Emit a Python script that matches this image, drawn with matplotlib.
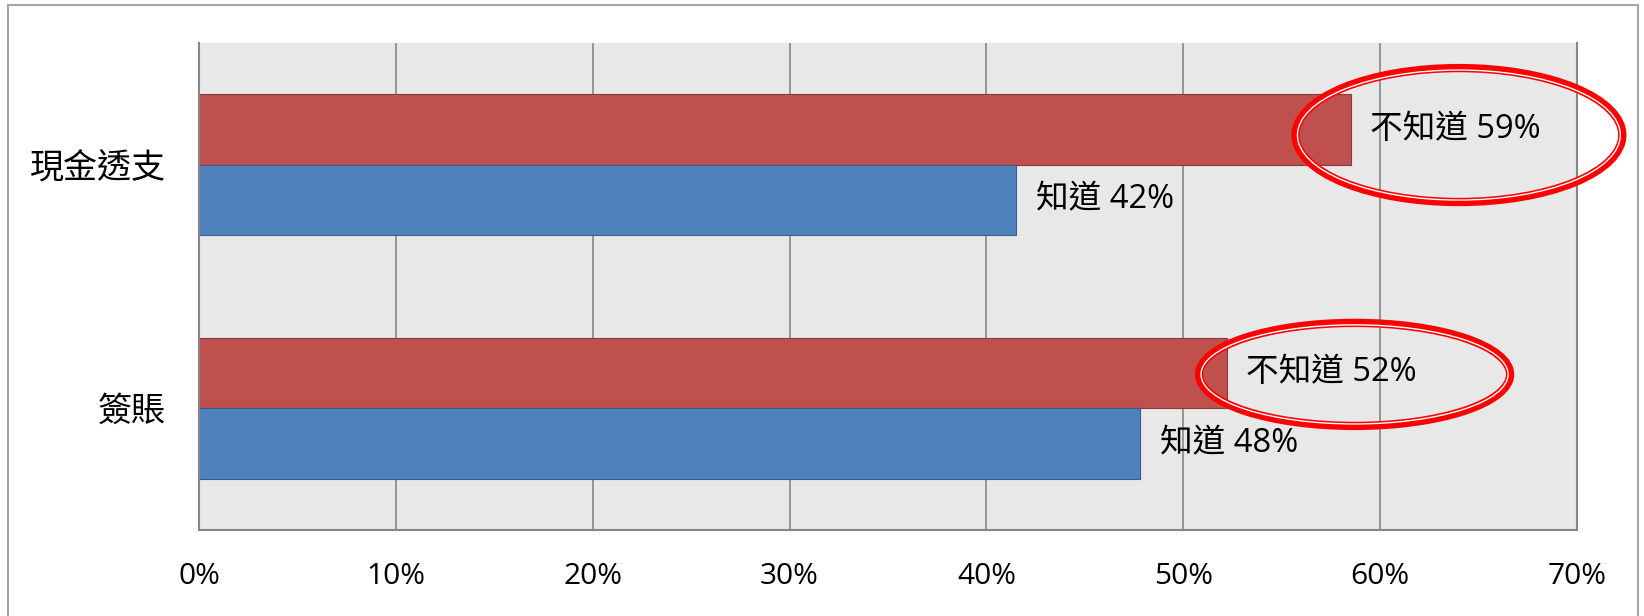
import matplotlib.pyplot as plt
import matplotlib.patches as patches
import numpy as np

plt.rcParams['font.family'] = ['Open Sans', 'Noto Sans CJK TC', 'DejaVu Sans']

# data (bottom to top)
categories = ['簽賬', '現金透支']
know = [47.8, 41.5]          # 知道
dont_know = [52.2, 58.5]     # 不知道
know_name = '知道'
dont_name = '不知道'
xticks = [0, 10, 20, 30, 40, 50, 60, 70]

# ellipse annotations around the "不知道" labels: (dx from bar end, y offset, width, height)
ellipse_geo = [(6.5, 0.139, 15.8, 0.423), (5.5, 0.122, 16.6, 0.55)]

red = '#C0504D'
red_edge = '#8C3A38'
blue = '#4F81BD'
blue_edge = '#385D8A'
grid_c = '#868686'

fig = plt.figure(figsize=(16.44, 6.16), dpi=100)
ax = fig.add_axes([199 / 1644, 86 / 616, 1378 / 1644, 487 / 616])

# outer frame
fig.patches.append(patches.Rectangle((8 / 1644, -0.02), 1630 / 1644, 1.02 - 5 / 616,
                                     transform=fig.transFigure, fill=False,
                                     edgecolor='#A6A6A6', linewidth=1.5))

y = np.arange(len(categories)) + 0.5
h = 0.29
ax.barh(y + h / 2, dont_know, height=h, color=red, edgecolor=red_edge, linewidth=0.8, zorder=2)
ax.barh(y - h / 2, know, height=h, color=blue, edgecolor=blue_edge, linewidth=0.8, zorder=2)

lab_pad = 1.0
for i in range(len(categories)):
    ax.text(dont_know[i] + lab_pad, y[i] + h / 2, f'{dont_name} {int(dont_know[i] + 0.5)}%',
            ha='left', va='center', fontsize=23.5, color='black', zorder=4)
    ax.text(know[i] + lab_pad, y[i] - h / 2, f'{know_name} {int(know[i] + 0.5)}%',
            ha='left', va='center', fontsize=23.5, color='black', zorder=4)
    dx, dy, w, eh = ellipse_geo[i]
    cx, cy = dont_know[i] + dx, y[i] + dy
    ax.add_patch(patches.Ellipse((cx, cy), w, eh, fill=False, edgecolor='#FF0000',
                                 linewidth=6, zorder=5, clip_on=False))
    ax.add_patch(patches.Ellipse((cx, cy), w - 0.2, eh - 0.016, fill=False, edgecolor='white',
                                 linewidth=1.0, zorder=6, clip_on=False))

ax.set_xlim(0, 70)
ax.set_ylim(0, 2)
ax.set_facecolor('#E8E8E8')
ax.set_xticks(xticks)
ax.set_xticklabels([f'{t}%' for t in xticks], fontsize=21.5)
ax.set_yticks(y)
ax.set_yticklabels(categories, fontsize=24.5)
ax.tick_params(axis='x', length=0, pad=23, labelcolor='black')
ax.tick_params(axis='y', length=0, pad=24, labelcolor='black')
ax.grid(axis='x', color=grid_c, linewidth=1.2)
ax.set_axisbelow(True)
ax.spines['top'].set_visible(False)
for s in ['left', 'bottom', 'right']:
    ax.spines[s].set_color(grid_c)
    ax.spines[s].set_linewidth(1.5)

fig.savefig('out.png', dpi=100)
